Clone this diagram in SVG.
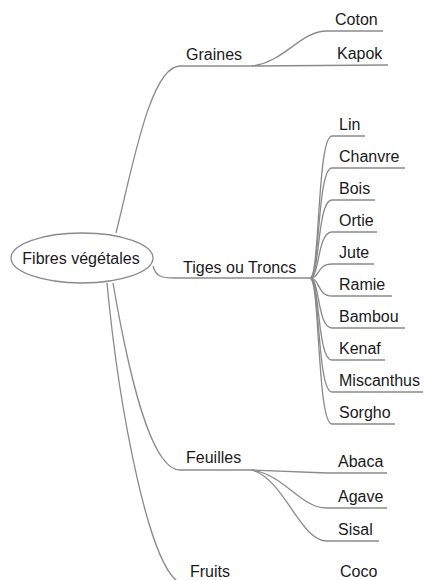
<svg xmlns="http://www.w3.org/2000/svg" width="424" height="580" viewBox="0 0 424 580">
<style>
.c{fill:none;stroke:#8a8a8a;stroke-width:1.3}
text{font-family:"Liberation Sans",Arial,sans-serif;font-size:16px;fill:#1a1a1a}
</style>
<rect width="424" height="580" fill="#fff"/>
<g id="connectors">
<path class="c" d="M116,233 C132,170 150,66 180,66 L252,66"/>
<path class="c" d="M252,66 C285,62 300,31 327,31 L383,31"/>
<path class="c" d="M252,66 L388,65"/>
<path class="c" d="M153,266 C156,276 160,278 175,278 L310,278"/>
<path class="c" d="M310,278 C320,278 317,136 332,136 L365,136"/>
<path class="c" d="M310,278 C320,278 317,168 332,168 L405,168"/>
<path class="c" d="M310,278 C320,278 317,200 332,200 L375,200"/>
<path class="c" d="M310,278 C320,278 317,232 332,232 L377,232"/>
<path class="c" d="M310,278 C320,278 317,264 332,264 L374,264"/>
<path class="c" d="M310,278 C320,278 317,296 332,296 L392,296"/>
<path class="c" d="M310,278 C320,278 317,328 332,328 L405,328"/>
<path class="c" d="M310,278 C320,278 317,360 332,360 L385,360"/>
<path class="c" d="M310,278 C320,278 317,392 332,392 L423,392"/>
<path class="c" d="M310,278 C320,278 317,424 332,424 L395,424"/>
<path class="c" d="M113,283 C128,370 150,470 180,470 L252,470"/>
<path class="c" d="M252,470 L327,473 L387,473"/>
<path class="c" d="M252,470 C285,475 300,508 327,508 L387,508"/>
<path class="c" d="M252,470 C285,480 300,541 327,541 L379,541"/>
<path class="c" d="M107,283 C118,400 150,584 185,584 L255,584"/>
</g>
<g id="root"><ellipse cx="82" cy="258" rx="71" ry="25" fill="#fff" stroke="#8a8a8a" stroke-width="1.3"/><text x="81" y="264" text-anchor="middle">Fibres végétales</text></g>
<g id="graines"><text x="186" y="60">Graines</text></g>
<g id="coton"><text x="335" y="25">Coton</text></g>
<g id="kapok"><text x="337" y="59">Kapok</text></g>
<g id="tiges"><text x="183" y="273">Tiges ou Troncs</text></g>
<g id="lin"><text x="339" y="130">Lin</text></g>
<g id="chanvre"><text x="339" y="162">Chanvre</text></g>
<g id="bois"><text x="339" y="194">Bois</text></g>
<g id="ortie"><text x="339" y="226">Ortie</text></g>
<g id="jute"><text x="339" y="258">Jute</text></g>
<g id="ramie"><text x="339" y="290">Ramie</text></g>
<g id="bambou"><text x="339" y="322">Bambou</text></g>
<g id="kenaf"><text x="339" y="354">Kenaf</text></g>
<g id="miscanthus"><text x="339" y="386">Miscanthus</text></g>
<g id="sorgho"><text x="339" y="418">Sorgho</text></g>
<g id="feuilles"><text x="186" y="463">Feuilles</text></g>
<g id="abaca"><text x="338" y="467">Abaca</text></g>
<g id="agave"><text x="338" y="502">Agave</text></g>
<g id="sisal"><text x="338" y="535">Sisal</text></g>
<g id="fruits"><text x="190" y="577">Fruits</text></g>
<g id="coco"><text x="340" y="577">Coco</text></g>
</svg>
